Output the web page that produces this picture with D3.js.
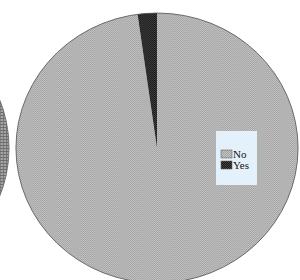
<!DOCTYPE html>
<html>
<head>
<meta charset="utf-8">
<script src="https://cdn.jsdelivr.net/npm/d3@7"></script>
<style>
  body { margin: 0; background: #fff; }
  svg { display: block; }
</style>
</head>
<body>
<svg id="chart" width="300" height="280"></svg>
<script>
// data
var categories = ["No", "Yes"];
var shares = [97.8, 2.2];
// neighbouring chart, only its right edge is visible
var sideShares = [100];

var svg = d3.select("#chart");
var defs = svg.append("defs");

function checker(id, a, b, size) {
  var p = defs.append("pattern").attr("id", id).attr("patternUnits", "userSpaceOnUse")
    .attr("width", size * 2).attr("height", size * 2);
  p.append("rect").attr("width", size * 2).attr("height", size * 2).attr("fill", a);
  p.append("rect").attr("width", size).attr("height", size).attr("fill", b);
  p.append("rect").attr("x", size).attr("y", size).attr("width", size).attr("height", size).attr("fill", b);
}
checker("patNo", "#c4c4c4", "#a2a2a2", 1);
checker("patYes", "#151515", "#454545", 1);

var grid = defs.append("pattern").attr("id", "patSide").attr("patternUnits", "userSpaceOnUse")
  .attr("width", 3).attr("height", 3);
grid.append("rect").attr("width", 3).attr("height", 3).attr("fill", "#a8a8a8");
grid.append("rect").attr("width", 3).attr("height", 1).attr("fill", "#6e6e6e");
grid.append("rect").attr("width", 1).attr("height", 3).attr("fill", "#6e6e6e");

var color = d3.scaleOrdinal().domain(categories).range(["url(#patNo)", "url(#patYes)"]);

var r = 135;
var pie = d3.pie().sort(null);
var arc = d3.arc().innerRadius(0).outerRadius(r);

// side pie (cut off at the left edge)
svg.append("g").attr("transform", "translate(-132,148) scale(1.045,1)")
  .selectAll("path").data(pie(sideShares)).join("path")
  .attr("d", arc).attr("fill", "url(#patSide)")
  .attr("stroke", "#666").attr("stroke-width", 0.8);

// main pie, slightly wider than tall like the source
var g = svg.append("g").attr("transform", "translate(157,148) scale(1.045,1)");
g.selectAll("path").data(pie(shares)).join("path")
  .attr("d", arc)
  .attr("fill", function(d, i) { return color(categories[i]); })
  .attr("stroke", "none");
g.append("circle").attr("r", r).attr("fill", "none").attr("stroke", "#555").attr("stroke-width", 0.8);

// legend
var legend = svg.append("g").attr("transform", "translate(216,131)");
legend.append("rect").attr("width", 41).attr("height", 54).attr("fill", "#e5f1fa");
var item = legend.selectAll("g.item").data(categories).join("g").attr("class", "item")
  .attr("transform", function(d, i) { return "translate(5," + (19 + i * 11) + ")"; });
item.append("rect").attr("width", 11).attr("height", 8)
  .attr("fill", function(d) { return color(d); })
  .attr("stroke", "#666").attr("stroke-width", 0.6);
item.append("text").attr("x", 12).attr("y", 8)
  .attr("font-family", "'Liberation Serif', 'DejaVu Serif', serif").attr("font-size", 11)
  .attr("fill", "#111").text(function(d) { return d; });
</script>
</body>
</html>
